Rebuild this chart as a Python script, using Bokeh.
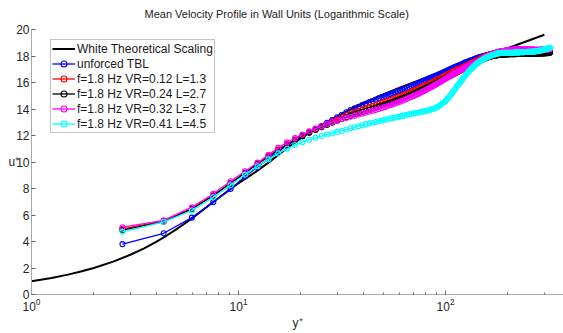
import numpy as np
from bokeh.plotting import figure
from bokeh.models import Range1d, SingleIntervalTicker, LogTicker, Legend, LegendItem
from bokeh.embed import file_html
from bokeh.resources import INLINE

# Measurement grid (uniform spacing in y+)
yplus = np.round(2.75 + 1.6 * np.arange(199), 2)

# White theoretical scaling
th_y = [1, 1.25, 1.5, 1.75, 2, 2.5, 3, 3.5, 4, 4.5, 5, 5.5, 6, 7, 8, 9, 10, 12, 14, 16,
        18, 20, 25, 30, 35, 40, 50, 60, 70, 85, 100, 120, 150, 175, 200, 250, 300]
th_u = [1.00, 1.25, 1.50, 1.75, 2.00, 2.50, 3.00, 3.48, 3.98, 4.45, 4.92, 5.36, 5.78, 6.58, 7.28, 7.88, 8.40, 9.22, 9.97, 10.68,
        11.28, 11.80, 12.78, 13.45, 14.00, 14.45, 15.10, 15.60, 16.00, 16.50, 16.90, 17.35, 17.90, 18.28, 18.60, 19.15, 19.60]

u_unforced = [
    3.80, 4.62, 5.80, 6.97, 7.97, 8.90, 9.62, 10.25, 10.80, 11.25,
    11.65, 11.95, 12.22, 12.48, 12.72, 12.95, 13.17, 13.38, 13.57, 13.75,
    13.92, 14.05, 14.17, 14.29, 14.40, 14.50, 14.60, 14.70, 14.80, 14.90,
    14.98, 15.05, 15.12, 15.19, 15.26, 15.33, 15.40, 15.47, 15.53, 15.59,
    15.65, 15.72, 15.79, 15.86, 15.93, 16.00, 16.06, 16.12, 16.18, 16.24,
    16.30, 16.35, 16.40, 16.45, 16.50, 16.55, 16.60, 16.65, 16.70, 16.75,
    16.80, 16.85, 16.90, 16.95, 17.00, 17.05, 17.10, 17.14, 17.18, 17.22,
    17.26, 17.30, 17.34, 17.38, 17.42, 17.46, 17.50, 17.54, 17.57, 17.60,
    17.63, 17.66, 17.69, 17.72, 17.75, 17.78, 17.81, 17.84, 17.87, 17.90,
    17.92, 17.94, 17.96, 17.98, 18.00, 18.02, 18.04, 18.06, 18.08, 18.10,
    18.12, 18.13, 18.14, 18.15, 18.16, 18.17, 18.18, 18.19, 18.20, 18.21,
    18.22, 18.23, 18.24, 18.25, 18.26, 18.26, 18.27, 18.27, 18.28, 18.28,
    18.29, 18.29, 18.30, 18.30, 18.30, 18.31, 18.31, 18.31, 18.32, 18.32,
    18.32, 18.32, 18.33, 18.33, 18.33, 18.33, 18.34, 18.34, 18.34, 18.34,
    18.35, 18.35, 18.35, 18.35, 18.35, 18.36, 18.36, 18.36, 18.36, 18.36,
    18.36, 18.37, 18.37, 18.37, 18.37, 18.37, 18.37, 18.38, 18.38, 18.38,
    18.38, 18.38, 18.38, 18.38, 18.39, 18.39, 18.39, 18.39, 18.39, 18.39,
    18.39, 18.40, 18.40, 18.40, 18.40, 18.40, 18.40, 18.40, 18.40, 18.40,
    18.41, 18.41, 18.41, 18.41, 18.41, 18.41, 18.41, 18.41, 18.42, 18.42,
    18.42, 18.42, 18.42, 18.42, 18.43, 18.43, 18.43, 18.43, 18.44]

u_vr012 = [
    4.95, 5.55, 6.50, 7.50, 8.42, 9.20, 9.88, 10.45, 10.95, 11.35,
    11.70, 12.00, 12.25, 12.48, 12.68, 12.87, 13.05, 13.22, 13.38, 13.53,
    13.67, 13.78, 13.88, 13.97, 14.06, 14.14, 14.22, 14.30, 14.38, 14.46,
    14.54, 14.61, 14.68, 14.75, 14.82, 14.89, 14.96, 15.03, 15.10, 15.17,
    15.24, 15.31, 15.38, 15.45, 15.52, 15.59, 15.66, 15.72, 15.78, 15.84,
    15.90, 15.96, 16.02, 16.08, 16.14, 16.20, 16.26, 16.32, 16.38, 16.44,
    16.50, 16.55, 16.60, 16.65, 16.70, 16.75, 16.80, 16.85, 16.90, 16.95,
    17.00, 17.04, 17.08, 17.12, 17.16, 17.20, 17.24, 17.28, 17.32, 17.36,
    17.40, 17.44, 17.48, 17.52, 17.56, 17.60, 17.64, 17.68, 17.72, 17.76,
    17.80, 17.83, 17.86, 17.89, 17.92, 17.95, 17.98, 18.01, 18.04, 18.07,
    18.10, 18.12, 18.14, 18.16, 18.18, 18.20, 18.22, 18.24, 18.26, 18.28,
    18.30, 18.31, 18.32, 18.33, 18.34, 18.35, 18.36, 18.37, 18.38, 18.39,
    18.39, 18.40, 18.40, 18.41, 18.41, 18.42, 18.42, 18.42, 18.43, 18.43,
    18.43, 18.43, 18.44, 18.44, 18.44, 18.44, 18.44, 18.44, 18.45, 18.45,
    18.45, 18.45, 18.45, 18.45, 18.45, 18.45, 18.45, 18.45, 18.45, 18.45,
    18.45, 18.45, 18.45, 18.45, 18.45, 18.44, 18.44, 18.44, 18.44, 18.44,
    18.44, 18.44, 18.44, 18.44, 18.44, 18.44, 18.44, 18.44, 18.44, 18.44,
    18.44, 18.44, 18.44, 18.44, 18.45, 18.45, 18.45, 18.45, 18.45, 18.45,
    18.45, 18.45, 18.45, 18.46, 18.46, 18.46, 18.46, 18.46, 18.46, 18.46,
    18.46, 18.47, 18.47, 18.47, 18.47, 18.47, 18.48, 18.48, 18.48]

u_vr024 = [
    4.86, 5.50, 6.45, 7.45, 8.40, 9.18, 9.85, 10.40, 10.90, 11.30,
    11.65, 11.95, 12.20, 12.42, 12.62, 12.80, 12.96, 13.11, 13.25, 13.38,
    13.50, 13.60, 13.69, 13.78, 13.86, 13.94, 14.02, 14.10, 14.18, 14.26,
    14.33, 14.40, 14.47, 14.54, 14.61, 14.68, 14.75, 14.82, 14.89, 14.96,
    15.03, 15.10, 15.17, 15.24, 15.31, 15.38, 15.45, 15.52, 15.58, 15.64,
    15.70, 15.76, 15.82, 15.88, 15.94, 16.00, 16.06, 16.12, 16.18, 16.24,
    16.30, 16.35, 16.40, 16.45, 16.50, 16.55, 16.60, 16.65, 16.70, 16.75,
    16.80, 16.85, 16.90, 16.95, 17.00, 17.05, 17.10, 17.14, 17.18, 17.22,
    17.26, 17.30, 17.34, 17.38, 17.42, 17.46, 17.50, 17.54, 17.58, 17.62,
    17.65, 17.68, 17.71, 17.74, 17.77, 17.80, 17.83, 17.86, 17.88, 17.90,
    17.92, 17.94, 17.96, 17.98, 18.00, 18.01, 18.02, 18.03, 18.04, 18.05,
    18.06, 18.07, 18.08, 18.08, 18.09, 18.09, 18.10, 18.10, 18.11, 18.11,
    18.11, 18.12, 18.12, 18.12, 18.12, 18.13, 18.13, 18.13, 18.13, 18.13,
    18.14, 18.14, 18.14, 18.14, 18.14, 18.14, 18.15, 18.15, 18.15, 18.15,
    18.15, 18.15, 18.15, 18.15, 18.15, 18.16, 18.16, 18.16, 18.16, 18.16,
    18.16, 18.16, 18.16, 18.16, 18.17, 18.17, 18.17, 18.17, 18.17, 18.17,
    18.17, 18.17, 18.17, 18.17, 18.18, 18.18, 18.18, 18.18, 18.18, 18.18,
    18.18, 18.18, 18.18, 18.19, 18.19, 18.19, 18.19, 18.19, 18.19, 18.19,
    18.19, 18.20, 18.20, 18.20, 18.20, 18.20, 18.20, 18.21, 18.21, 18.21,
    18.21, 18.21, 18.22, 18.22, 18.22, 18.23, 18.23, 18.24, 18.25]

u_vr032 = [
    5.08, 5.60, 6.59, 7.60, 8.55, 9.30, 9.95, 10.55, 11.08, 11.48,
    11.80, 12.08, 12.32, 12.52, 12.70, 12.86, 13.00, 13.12, 13.23, 13.33,
    13.42, 13.50, 13.58, 13.65, 13.72, 13.79, 13.86, 13.93, 14.00, 14.07,
    14.14, 14.21, 14.28, 14.35, 14.42, 14.49, 14.56, 14.63, 14.70, 14.77,
    14.84, 14.91, 14.98, 15.05, 15.12, 15.19, 15.26, 15.33, 15.40, 15.47,
    15.54, 15.61, 15.68, 15.75, 15.82, 15.89, 15.96, 16.03, 16.10, 16.17,
    16.24, 16.30, 16.36, 16.42, 16.48, 16.54, 16.60, 16.66, 16.72, 16.77,
    16.82, 16.87, 16.92, 16.97, 17.02, 17.07, 17.12, 17.16, 17.20, 17.24,
    17.28, 17.32, 17.36, 17.40, 17.44, 17.48, 17.52, 17.56, 17.60, 17.64,
    17.68, 17.72, 17.76, 17.80, 17.84, 17.88, 17.92, 17.95, 17.98, 18.01,
    18.04, 18.07, 18.10, 18.13, 18.16, 18.18, 18.20, 18.22, 18.24, 18.26,
    18.28, 18.30, 18.32, 18.34, 18.35, 18.36, 18.37, 18.38, 18.39, 18.40,
    18.41, 18.42, 18.43, 18.44, 18.45, 18.45, 18.46, 18.46, 18.47, 18.47,
    18.48, 18.48, 18.48, 18.49, 18.49, 18.49, 18.49, 18.50, 18.50, 18.50,
    18.50, 18.50, 18.50, 18.50, 18.50, 18.50, 18.50, 18.50, 18.50, 18.50,
    18.50, 18.50, 18.49, 18.49, 18.49, 18.49, 18.49, 18.49, 18.48, 18.48,
    18.48, 18.48, 18.48, 18.48, 18.48, 18.47, 18.47, 18.47, 18.47, 18.47,
    18.47, 18.47, 18.47, 18.47, 18.47, 18.47, 18.47, 18.47, 18.48, 18.48,
    18.48, 18.48, 18.48, 18.48, 18.49, 18.49, 18.49, 18.49, 18.49, 18.50,
    18.50, 18.50, 18.50, 18.50, 18.51, 18.51, 18.51, 18.51, 18.52]

u_vr041 = [
    4.73, 5.49, 6.34, 7.34, 8.25, 9.05, 9.68, 10.20, 10.65, 11.00,
    11.28, 11.50, 11.68, 11.83, 11.96, 12.07, 12.17, 12.27, 12.36, 12.45,
    12.54, 12.62, 12.70, 12.77, 12.84, 12.90, 12.96, 13.02, 13.08, 13.13,
    13.18, 13.23, 13.28, 13.32, 13.36, 13.40, 13.44, 13.48, 13.52, 13.56,
    13.60, 13.63, 13.66, 13.69, 13.72, 13.75, 13.78, 13.81, 13.84, 13.87,
    13.90, 13.94, 13.98, 14.02, 14.07, 14.13, 14.20, 14.28, 14.36, 14.45,
    14.55, 14.65, 14.76, 14.88, 15.00, 15.13, 15.27, 15.41, 15.55, 15.69,
    15.80, 15.92, 16.04, 16.16, 16.28, 16.40, 16.51, 16.62, 16.72, 16.82,
    16.91, 17.00, 17.08, 17.16, 17.23, 17.30, 17.37, 17.43, 17.49, 17.55,
    17.60, 17.65, 17.70, 17.74, 17.78, 17.82, 17.86, 17.89, 17.92, 17.95,
    17.98, 18.01, 18.04, 18.06, 18.08, 18.10, 18.12, 18.14, 18.16, 18.18,
    18.19, 18.20, 18.21, 18.22, 18.23, 18.24, 18.24, 18.25, 18.25, 18.25,
    18.25, 18.25, 18.25, 18.25, 18.25, 18.25, 18.25, 18.25, 18.25, 18.25,
    18.25, 18.25, 18.26, 18.26, 18.26, 18.26, 18.27, 18.27, 18.27, 18.27,
    18.27, 18.28, 18.28, 18.28, 18.28, 18.29, 18.29, 18.29, 18.29, 18.30,
    18.30, 18.30, 18.30, 18.30, 18.30, 18.31, 18.31, 18.31, 18.31, 18.31,
    18.31, 18.32, 18.32, 18.33, 18.33, 18.34, 18.34, 18.35, 18.35, 18.36,
    18.36, 18.37, 18.37, 18.38, 18.38, 18.39, 18.40, 18.41, 18.42, 18.43,
    18.44, 18.45, 18.46, 18.47, 18.48, 18.49, 18.50, 18.51, 18.52, 18.53,
    18.54, 18.55, 18.56, 18.57, 18.58, 18.59, 18.60, 18.61, 18.62]

series_labels = ["unforced TBL",
                 "f=1.8 Hz VR=0.12 L=1.3",
                 "f=1.8 Hz VR=0.24 L=2.7",
                 "f=1.8 Hz VR=0.32 L=3.7",
                 "f=1.8 Hz VR=0.41 L=4.5"]
series_values = [u_unforced, u_vr012, u_vr024, u_vr032, u_vr041]
series_colors = ["#0000ff", "#ff0000", "#000000", "#ff00ff", "#00ffff"]

FONT = "Liberation Sans"

p = figure(width=563, height=333, x_axis_type="log",
           x_range=Range1d(1, 371), y_range=Range1d(0, 20),
           output_backend="svg", toolbar_location=None,
           min_border_left=31, min_border_right=0,
           min_border_top=28, min_border_bottom=39,
           title="Mean Velocity Profile in Wall Units (Logarithmic Scale)")
p.outline_line_color = None
p.xgrid.visible = False
p.ygrid.visible = False
p.background_fill_color = "white"
p.border_fill_color = "white"

p.title.text_font = FONT
p.title.text_font_size = "11px"
p.title.text_font_style = "normal"
p.title.text_color = "#1a1a1a"
p.title.align = "left"
p.title.offset = 113
p.title.standoff = 15
p.title.vertical_align = "top"

for ax in (p.xaxis[0], p.yaxis[0]):
    ax.axis_line_color = "#a8a8a8"
    ax.axis_line_width = 1
    ax.major_tick_line_color = "#666666"
    ax.minor_tick_line_color = "#666666"
    ax.major_tick_in = 4
    ax.major_tick_out = 0
    ax.minor_tick_in = 2
    ax.minor_tick_out = 0
    ax.major_label_text_font = FONT
    ax.major_label_text_font_size = "12px"
    ax.major_label_text_color = "#262626"
    ax.axis_label_text_font = FONT
    ax.axis_label_text_font_size = "12px"
    ax.axis_label_text_font_style = "normal"
    ax.axis_label_text_color = "#262626"

p.xaxis[0].ticker = LogTicker(num_minor_ticks=10)
p.yaxis[0].ticker = SingleIntervalTicker(interval=2, num_minor_ticks=0)
p.xaxis[0].major_label_standoff = 3
p.yaxis[0].major_label_standoff = 2

p.xaxis[0].axis_label = "y\u207a"
p.xaxis[0].axis_label_standoff = 2
p.yaxis[0].axis_label = "u\u207a"
p.yaxis[0].axis_label_orientation = "horizontal"
p.yaxis[0].axis_label_standoff = -6

r_th = p.line(th_y, th_u, line_color="black", line_width=2)

items = [LegendItem(label="White Theoretical Scaling", renderers=[r_th])]
for lab, vals, col in zip(series_labels, series_values, series_colors):
    rl = p.line(yplus, vals, line_color=col, line_width=1.3)
    rs = p.scatter(yplus, vals, marker="circle", size=5, line_color=col,
                   fill_color=None, line_width=1.1)
    items.append(LegendItem(label=lab, renderers=[rl, rs]))

legend = Legend(items=items, location=(19, 161))
legend.label_text_font = FONT
legend.label_text_font_size = "12px"
legend.label_text_color = "#1a1a1a"
legend.glyph_width = 23
legend.glyph_height = 15
legend.label_height = 15
legend.label_standoff = 2
legend.spacing = 0
legend.padding = 1
legend.margin = 0
legend.border_line_color = "#8c8c8c"
legend.border_line_width = 1
legend.background_fill_color = "white"
legend.background_fill_alpha = 1
p.add_layout(legend)

open("out.html", "w").write(file_html(p, INLINE))
